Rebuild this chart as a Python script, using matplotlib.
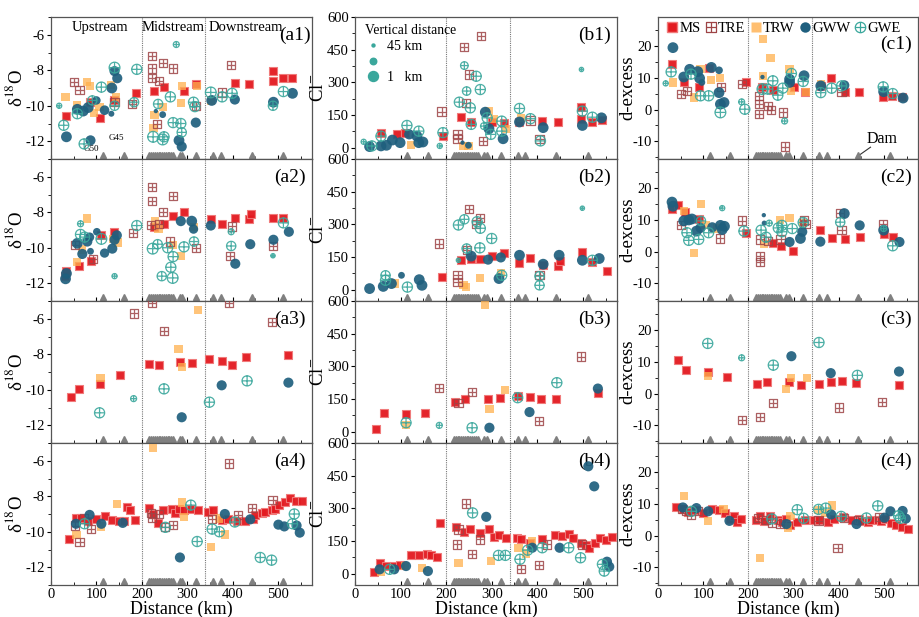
import matplotlib
matplotlib.use("Agg")
import matplotlib.pyplot as plt
from matplotlib.path import Path
from matplotlib.lines import Line2D
from matplotlib.ticker import MultipleLocator

plt.rcParams['font.family'] = ['Liberation Serif', 'DejaVu Serif']
plt.rcParams['mathtext.fontset'] = 'stix'
plt.rcParams['axes.unicode_minus'] = False

# ---------------- data ----------------
# (distance km, value) ; GW series: (distance km, value, vertical distance km)
A1 = {
 "MS": [(34,-10.6),(107,-10.7),(85,-9.8),(139,-9.7),(187,-9.3),(228,-9.15),(248,-8.95),(293,-9.15),(319,-8.75),(406,-8.7),(437,-8.75),(488,-8.05),(488,-8.6),(511,-8.45),(530,-8.45)],
 "TRE": [(51,-8.65),(63,-9.1),(140,-9.8),(179,-9.9),(222,-7.2),(222,-7.9),(222,-8.45),(238,-8.6),(246,-7.6),(269,-7.9),(233,-11.05),(319,-10.0),(376,-9.25),(397,-7.7)],
 "TRW": [(32,-9.5),(58,-9.95),(80,-8.65),(86,-8.9),(95,-10.4),(107,-10.05),(133,-8.85),(144,-9.5),(228,-10.5),(226,-11.25),(246,-10.05),(288,-8.9),(286,-9.85),(322,-8.9),(352,-9.7)],
 "GWW": [(34,-11.75,1),(58,-10.2,1),(71,-10.3,1),(82,-10.1,1),(87,-11.95,5),(100,-9.7,15),(118,-10.25,8),(134,-9.0,1),(140,-8.05,5),(146,-8.45,5),(133,-10.45,30),(231,-10.3,40),(246,-10.5,25),(282,-11.95,1),(288,-12.3,5),(319,-10.95,5),(354,-9.7,1),(405,-9.65,5),(490,-9.8,1),(532,-9.3,1)],
 "GWE": [(18,-10.0,35),(28,-11.1,5),(58,-10.45,5),(73,-12.15,5),(91,-9.7,10),(111,-8.95,5),(140,-7.85,1),(140,-10.0,10),(189,-7.95,5),(183,-9.8,10),(225,-11.75,1),(246,-11.9,1),(249,-11.75,5),(236,-9.9,10),(263,-9.5,5),(276,-6.55,30),(269,-10.95,5),(286,-11.0,5),(288,-11.5,10),(314,-9.8,5),(317,-10.05,5),(352,-9.25,1),(377,-9.5,5),(399,-9.3,5),(489,-10.0,10),(512,-9.2,5)],
}
A2 = {
 "MS": [(31,-11.6),(34,-11.3),(61,-11.0),(89,-10.75),(111,-9.3),(139,-9.1),(228,-8.85),(249,-8.65),(268,-8.2),(294,-8.0),(352,-8.4),(377,-8.65),(406,-8.3),(437,-8.4),(440,-8.1),(490,-8.3),(511,-8.35)],
 "TRE": [(53,-9.85),(93,-10.65),(180,-9.15),(222,-6.6),(222,-7.35),(246,-8.0),(268,-7.1),(220,-8.7),(238,-8.65),(263,-9.65),(319,-10.0),(399,-8.8),(395,-10.45),(489,-9.9)],
 "TRW": [(80,-8.35),(58,-10.8),(69,-10.1),(136,-9.5),(147,-9.7),(230,-8.5),(237,-8.95),(268,-9.85),(286,-10.45),(315,-8.85)],
 "GWW": [(32,-11.75,1),(34,-11.45,1),(58,-9.75,1),(69,-10.35,5),(80,-9.65,5),(101,-9.1,20),(85,-9.4,10),(118,-10.3,10),(135,-10.05,5),(140,-9.55,5),(145,-9.3,5),(87,-10.2,25),(286,-8.5,5),(310,-8.5,1),(314,-8.95,10),(352,-8.75,5),(439,-9.8,5),(406,-10.9,5),(490,-9.55,5),(524,-9.1,5)],
 "GWE": [(65,-8.65,30),(65,-9.25,5),(74,-9.4,5),(111,-9.5,1),(140,-11.6,35),(189,-8.75,5),(224,-10.05,1),(235,-9.8,10),(244,-11.6,10),(264,-11.1,5),(268,-11.7,1),(269,-10.5,5),(257,-10.0,5),(293,-9.95,5),(315,-9.65,10),(397,-9.9,10),(397,-9.1,30),(489,-10.45,40),(512,-8.6,5)],
}
A3 = {
 "MS": [(45,-10.4),(62,-9.95),(109,-9.7),(151,-9.15),(215,-8.55),(237,-8.6),(284,-8.45),(311,-8.5),(349,-8.25),(377,-8.4),(399,-8.6),(430,-8.15),(523,-8.05)],
 "TRE": [(182,-5.7),(222,-5.1),(249,-6.7),(393,-5.1),(487,-6.2)],
 "TRW": [(109,-9.35),(281,-7.7),(288,-8.7),(324,-5.5)],
 "GWW": [(288,-11.55,5),(376,-9.75,5),(523,-9.6,5)],
 "GWE": [(107,-11.3,5),(182,-10.5,30),(249,-9.95,5),(349,-10.7,5),(432,-9.5,5)],
}
A4 = {
 "MS": [(40,-10.4),(55,-9.25),(67,-9.2),(82,-9.4),(100,-9.3),(119,-9.1),(134,-9.35),(149,-9.4),(160,-9.4),(168,-8.6),(175,-8.8),(184,-9.35),(217,-8.65),(225,-9.0),(235,-9.5),(247,-8.8),(266,-8.7),(274,-8.95),(282,-8.7),(293,-8.75),(308,-8.7),(324,-8.8),(346,-8.9),(357,-8.8),(377,-9.35),(390,-9.3),(410,-9.4),(428,-9.4),(444,-9.3),(450,-9.05),(465,-8.95),(472,-8.9),(487,-8.75),(494,-8.7),(503,-8.5),(516,-8.3),(527,-8.1),(540,-8.25),(552,-8.25)],
 "TRE": [(53,-9.65),(63,-10.6),(73,-9.25),(89,-9.85),(220,-8.95),(222,-9.2),(238,-9.0),(252,-9.75),(269,-9.6),(355,-9.3),(393,-6.15),(412,-9.05),(443,-8.65),(488,-8.2)],
 "TRW": [(56,-10.2),(111,-9.7),(145,-8.45),(224,-5.3),(288,-8.35),(293,-9.15),(353,-10.85),(370,-9.25),(384,-10.15)],
 "GWW": [(55,-9.55,5),(85,-9.05,5),(111,-9.55,5),(158,-9.5,5),(284,-11.45,5),(383,-9.0,5),(439,-9.3,5),(501,-9.6,5),(514,-9.7,5),(541,-9.65,5),(548,-10.05,5)],
 "GWE": [(74,-9.55,5),(252,-9.75,5),(308,-8.5,5),(322,-10.55,5),(355,-9.85,5),(371,-10.0,5),(405,-9.45,5),(461,-11.45,5),(486,-11.6,5),(532,-9.55,5),(536,-9.0,5)],
}
B1 = {
 "MS": [(58,69),(92,61),(110,66),(193,53),(232,142),(255,118),(300,118),(327,115),(361,118),(411,122),(446,118),(497,186),(497,133),(521,118),(541,127)],
 "TRE": [(190,166),(225,61),(225,41),(240,461),(251,336),(277,511),(244,206),(281,31),(385,125),(405,38)],
 "TRW": [(123,11),(294,168),(305,130),(331,87),(238,8),(249,8),(365,137)],
 "GWW": [(32,5,1),(57,8,1),(69,11,1),(82,35,1),(99,23,1),(119,61,5),(136,53,1),(140,23,1),(149,26,1),(236,23,40),(249,11,25),(286,163,1),(294,87,1),(325,41,1),(361,118,1),(413,92,1),(499,102,1),(541,137,1)],
 "GWE": [(19,27,35),(37,8,5),(57,53,5),(114,102,5),(140,76,5),(186,8,35),(193,69,5),(229,209,5),(240,377,20),(245,260,15),(253,183,5),(255,107,5),(266,328,5),(275,267,5),(283,99,25),(290,137,5),(298,61,5),(322,122,5),(322,76,5),(361,180,5),(385,133,5),(407,31,5),(497,359,40),(499,168,5),(521,140,5)],
}
B2 = {
 "MS": [(192,58),(233,135),(255,143),(275,143),(301,154),(326,169),(361,123),(385,146),(413,112),(446,108),(450,132),(499,171),(521,128),(552,86)],
 "TRE": [(184,212),(225,66),(225,35),(251,369),(275,328),(266,302),(245,182),(405,66)],
 "TRW": [(88,28),(274,54),(320,78),(238,20),(243,12)],
 "GWW": [(32,5,1),(62,15,1),(80,28,1),(102,66,25),(141,46,1),(147,20,1),(255,154,1),(292,138,5),(320,148,5),(316,51,1),(361,158,1),(413,117,1),(448,158,1),(499,135,1),(536,143,1)],
 "GWE": [(67,66,10),(67,43,5),(115,12,5),(227,297,5),(240,323,10),(268,312,5),(275,282,5),(245,189,10),(274,192,5),(300,235,5),(322,66,5),(227,135,40),(405,62,10),(405,20,10),(499,374,40),(521,135,5)],
}
B3 = {
 "MS": [(46,11),(64,87),(112,83),(154,84),(219,138),(242,149),(291,149),(318,153),(357,164),(385,159),(408,149),(441,149),(534,179)],
 "TRE": [(185,199),(227,130),(257,182),(404,49),(496,345)],
 "TRW": [(112,29),(285,580),(295,103),(330,190)],
 "GWW": [(295,18,5),(383,90,5),(533,198,5)],
 "GWE": [(112,41,5),(185,29,30),(257,18,5),(357,156,5),(443,225,5)],
}
B4 = {
 "MS": [(41,9),(54,50),(69,35),(86,35),(99,38),(123,84),(141,84),(159,89),(166,84),(179,78),(187,234),(222,215),(240,191),(253,206),(275,188),(295,203),(305,169),(316,176),(331,165),(355,165),(364,157),(383,142),(411,157),(439,176),(454,172),(469,180),(478,165),(497,142),(506,130),(514,116),(526,142),(538,165),(551,154),(563,169)],
 "TRE": [(223,134),(227,203),(243,322),(257,89),(275,157),(364,23),(404,38),(421,134),(499,134)],
 "TRW": [(57,8),(109,35),(147,27),(227,50),(298,58),(359,119),(376,93),(389,150)],
 "GWW": [(54,20,5),(86,20,5),(112,35,5),(160,12,5),(288,261,5),(389,119,5),(449,119,5),(512,493,5),(525,401,5),(553,55,5),(558,32,5)],
 "GWE": [(76,20,5),(258,279,5),(315,84,5),(330,84,5),(362,66,5),(379,108,5),(411,119,5),(469,119,5),(495,73,5),(543,43,5),(547,12,5)],
}
C1 = {
 "MS": [(32,14.2),(57,8.5),(90,7.1),(112,13.0),(194,8.7),(231,7.1),(255,6.1),(301,7.2),(324,5.5),(360,7.4),(383,9.8),(414,5.6),(445,5.6),(497,3.8),(518,4.3),(540,4.0)],
 "TRE": [(51,4.8),(64,5.9),(140,7.1),(185,7.9),(224,4.3),(224,1.7),(224,-1.5),(243,1.1),(250,-0.2),(276,-0.9),(280,-11.6),(406,5.6)],
 "TRW": [(34,8.5),(79,3.8),(94,12.6),(118,9.3),(138,9.8),(233,22.0),(233,10.6),(249,16.1),(291,12.6),(295,5.9),(328,5.6),(360,7.9)],
 "GWW": [(33,19.4,1),(57,10.2,1),(70,12.6,1),(88,11.9,1),(97,8.5,25),(118,13.2,1),(135,12.3,20),(92,9.8,1),(135,5.3,1),(138,1.7,1),(146,2.2,1),(231,10.2,40),(291,8.5,1),(291,9.5,1),(323,10.6,1),(360,7.4,1),(412,7.6,5),(499,5.6,1),(542,3.6,1)],
 "GWE": [(17,8.2,35),(29,11.8,5),(73,11.1,5),(94,4.3,5),(112,4.3,5),(138,-0.9,1),(185,2.4,30),(192,0.1,5),(231,6.4,1),(243,6.4,5),(254,9.0,5),(265,4.5,5),(276,6.7,5),(280,-3.6,30),(295,11.3,5),(321,8.8,5),(360,5.3,5),(384,6.7,5),(406,7.4,5),(498,7.1,5),(519,5.0,5)],
}
C2 = {
 "MS": [(31,13.4),(45,14.6),(60,12.4),(90,10.1),(194,5.9),(254,2.8),(272,1.8),(298,0.3),(359,6.7),(384,4.1),(414,3.8),(447,4.5),(499,5.4),(519,4.6)],
 "TRE": [(51,8.2),(137,4.1),(185,9.7),(226,-1.5),(226,-3.2),(226,3.8),(243,3.3),(271,3.8),(323,9.7),(326,8.6),(403,12.1),(406,6.7),(498,8.6)],
 "TRW": [(57,12.6),(80,-0.5),(95,14.9),(105,8.2),(131,7.2),(234,2.3),(269,9.9),(291,10.4),(321,8.9)],
 "GWW": [(31,15.5,1),(33,14.2,1),(57,9.6,1),(68,9.9,1),(75,10.2,1),(85,6.4,1),(94,7.4,5),(120,7.6,5),(138,8.2,1),(147,7.9,1),(142,6.9,1),(234,11.4,40),(235,8.9,35),(291,3.0,5),(315,4.1,1),(319,6.2,5),(359,3.1,5),(412,11.9,1),(446,8.2,5),(499,6.7,1),(534,3.0,5)],
 "GWE": [(64,5.9,5),(68,3.5,5),(90,3.8,5),(95,9.6,10),(112,5.9,5),(142,13.6,35),(190,6.4,5),(228,6.7,5),(239,4.5,5),(246,8.9,30),(266,7.4,5),(274,8.2,5),(274,6.2,5),(297,7.2,5),(321,9.1,5),(403,9.2,10),(499,7.2,30),(519,1.8,5)],
}
C3 = {
 "MS": [(44,10.4),(62,7.4),(110,6.7),(153,5.1),(218,3.1),(240,3.5),(289,3.6),(317,2.8),(356,3.0),(382,3.6),(406,4.0),(438,3.3),(534,2.6)],
 "TRE": [(185,-8.3),(226,-7.3),(254,-2.9),(401,-4.4),(496,-2.7)],
 "TRW": [(110,5.4),(283,1.3),(295,4.8),(330,4.8)],
 "GWW": [(295,11.7,5),(382,6.4,5),(533,6.9,5)],
 "GWE": [(110,15.7,5),(185,11.2,30),(255,8.9,5),(356,16.0,5),(441,5.7,5)],
}
C4 = {
 "MS": [(40,9.0),(55,8.2),(67,7.4),(82,7.9),(100,7.2),(119,8.3),(134,8.0),(149,7.0),(160,5.2),(168,6.1),(175,4.2),(184,5.3),(217,5.0),(225,6.2),(235,4.4),(247,6.0),(266,5.0),(274,4.2),(282,5.1),(293,3.4),(308,4.2),(324,5.0),(346,5.0),(357,4.9),(377,4.2),(390,5.1),(410,5.8),(428,5.0),(444,5.3),(450,4.4),(465,4.1),(472,4.9),(487,4.8),(494,4.4),(503,5.2),(516,3.9),(527,3.4),(540,2.6),(552,2.2)],
 "TRE": [(53,8.4),(63,7.8),(73,6.5),(89,7.6),(222,5.4),(238,4.8),(252,4.1),(269,3.5),(355,4.7),(397,-3.8),(412,5.6),(443,4.9),(488,5.8)],
 "TRW": [(58,12.4),(111,4.6),(145,8.3),(225,-7.0),(288,2.5),(293,6.0),(353,8.1),(370,7.0),(384,9.4)],
 "GWW": [(55,8.8,5),(85,8.6,5),(111,7.6,5),(158,4.6,5),(284,3.6,5),(383,6.6,5),(439,3.6,5),(501,5.6,5),(514,7.6,5),(541,7.7,5),(548,5.3,5)],
 "GWE": [(74,7.6,5),(252,5.2,5),(308,8.1,5),(322,5.4,5),(355,8.2,5),(371,8.6,5),(405,6.0,5),(461,5.5,5),(486,9.3,5),(532,6.2,5),(536,5.4,5)],
}

sample_sites_km = [114,160,217,221,225,229,233,237,241,245,249,253,257,261,265,269,284,289,320,357,374,442,512]
zone_bounds_km = [200, 340]

# ---------------- styles ----------------
sq = [(-1,-1),(1,-1),(1,1),(-1,1),(-1,-1)]
SQ_CROSS = Path(sq + [(-1,0),(1,0),(0,-1),(0,1)],
                [Path.MOVETO]+[Path.LINETO]*3+[Path.CLOSEPOLY]+[Path.MOVETO,Path.LINETO,Path.MOVETO,Path.LINETO])
CROSS = Path([(-1,0),(1,0),(0,-1),(0,1)],[Path.MOVETO,Path.LINETO,Path.MOVETO,Path.LINETO])
CIRC_CROSS = Path.make_compound_path(Path.unit_circle(), CROSS)

C_MS = '#e3191f'; C_TRE = '#9e4446'; C_TRW = '#ffb04d'; C_GWW = '#1f5f7e'; C_GWE = '#3aa79c'

def vd_size(vd):
    dpx = 10.8 - 7.3*(vd-1)/44.0
    return (dpx/1.389)**2

SQ_S = (8.2/1.389)**2

def draw(ax, d):
    xs, ys = zip(*d["MS"])
    ax.scatter(xs, ys, s=SQ_S, marker='s', facecolor=C_MS, edgecolor='#f07a7a', linewidths=0.8, alpha=0.95, zorder=3)
    xs, ys = zip(*d["TRE"])
    ax.scatter(xs, ys, s=SQ_S, marker=SQ_CROSS, facecolor='none', edgecolor=C_TRE, linewidths=0.9, alpha=0.85, zorder=4)
    xs, ys = zip(*d["TRW"])
    ax.scatter(xs, ys, s=SQ_S, marker='s', facecolor=C_TRW, edgecolor='none', alpha=0.75, zorder=3)
    xs, ys, vs = zip(*d["GWW"])
    ax.scatter(xs, ys, s=[vd_size(v) for v in vs], marker='o', facecolor=C_GWW, edgecolor='none', alpha=0.92, zorder=5)
    xs, ys, vs = zip(*d["GWE"])
    ax.scatter(xs, ys, s=[vd_size(v) for v in vs], marker=CIRC_CROSS, facecolor='none', edgecolor=C_GWE, linewidths=0.9, alpha=0.9, zorder=6)

# ---------------- layout ----------------
fig = plt.figure(figsize=(9.2, 6.17), dpi=100)
W, H = 920.0, 617.0
col_left = [51, 355, 658]
col_w = [261, 262, 260]
row_top = [17, 159, 301, 443]
row_h = 142

panels = [[A1, B1, C1], [A2, B2, C2], [A3, B3, C3], [A4, B4, C4]]
ylims = [(-13, -5), (-52, 600), (-15.5, 29)]
yticks = [[-12, -10, -8, -6], [0, 150, 300, 450, 600], [-10, 0, 10, 20]]
yminor = [1, 75, 5]
ylabels = ['δ$^{18}$O', 'Cl$^{\u2212}$', 'd-excess']
ylab_x = [-0.095, -0.105, -0.082]
letters = ['a', 'b', 'c']

axes = {}
for r in range(4):
    for c in range(3):
        rect = [col_left[c]/W, 1-(row_top[r]+row_h)/H, col_w[c]/W, row_h/H]
        ax = fig.add_axes(rect)
        axes[(r, c)] = ax
        draw(ax, panels[r][c])
        ax.set_xlim(0, 575)
        ax.set_ylim(*ylims[c])
        ax.set_yticks(yticks[c])
        ax.yaxis.set_minor_locator(MultipleLocator(yminor[c]))
        ax.xaxis.set_major_locator(MultipleLocator(100))
        ax.xaxis.set_minor_locator(MultipleLocator(50))
        ax.tick_params(axis='x', which='both', direction='in', length=3, labelsize=10.5, pad=2)
        ax.tick_params(axis='x', which='minor', length=2)
        ax.tick_params(axis='y', which='major', direction='out', length=3, labelsize=10.5, pad=1.5)
        ax.tick_params(axis='y', which='minor', direction='out', length=2)
        for sp in ax.spines.values():
            sp.set_color('#555555'); sp.set_linewidth(0.9)
        for xb in zone_bounds_km:
            ax.axvline(xb, color='#777777', ls=(0, (1, 1)), lw=0.8, zorder=1)
        ax.plot(sample_sites_km, [0.03]*len(sample_sites_km), ls='none', marker='^',
                ms=5, color='#808080', transform=ax.get_xaxis_transform(), zorder=2, clip_on=False)
        ax.set_ylabel(ylabels[c], fontsize=13.5)
        ax.yaxis.set_label_coords(ylab_x[c], 0.5)
        if r == 0 and c == 0:
            ax.text(0.997, 0.935, f'({letters[c]}{r+1})', transform=ax.transAxes, ha='right', va='top', fontsize=14)
        elif r == 0 and c == 2:
            ax.text(0.975, 0.87, f'({letters[c]}{r+1})', transform=ax.transAxes, ha='right', va='top', fontsize=14)
        else:
            ax.text(0.975, 0.93, f'({letters[c]}{r+1})', transform=ax.transAxes, ha='right', va='top', fontsize=14)
        if r < 3:
            ax.tick_params(axis='x', labelbottom=False)
        else:
            ax.set_xlabel('Distance (km)', fontsize=13, labelpad=0)

# zone names
ax = axes[(0, 0)]
ax.text(107, -5.6, 'Upstream', ha='center', va='center', fontsize=10.5)
ax.text(270, -5.6, 'Midstream', ha='center', va='center', fontsize=10.5)
ax.text(348, -5.6, 'Downstream', ha='left', va='center', fontsize=10.5)
ax.text(144, -11.8, 'G45', ha='center', va='center', fontsize=6.5)
ax.text(88, -12.45, 'G50', ha='center', va='center', fontsize=6.5)

# vertical distance legend
ax = axes[(0, 1)]
h_small = Line2D([], [], ls='none', marker='o', color=C_GWE, ms=3.0/1.389)
h_mid = Line2D([], [], ls='none', marker='o', color=C_GWE, ms=6.5/1.389)
h_big = Line2D([], [], ls='none', marker='o', color=C_GWE, ms=10/1.389)
leg = ax.legend([h_small, h_mid, h_big], ['45 km', '', '1   km'], title='Vertical distance',
                loc='upper left', bbox_to_anchor=(0.0, 1.02), frameon=False, fontsize=10,
                title_fontsize=9.8, handletextpad=0.4, labelspacing=0.2, borderaxespad=0.3,
                handlelength=1.2)
leg._legend_box.align = 'left'

# series legend
ax = axes[(0, 2)]
hs = [Line2D([], [], ls='none', marker='s', ms=7, markerfacecolor=C_MS, markeredgecolor='#f07a7a'),
      Line2D([], [], ls='none', marker=SQ_CROSS, ms=7, markerfacecolor='none', markeredgecolor=C_TRE, markeredgewidth=0.9),
      Line2D([], [], ls='none', marker='s', ms=7, markerfacecolor=C_TRW, markeredgecolor='none', alpha=0.8),
      Line2D([], [], ls='none', marker='o', ms=7.5, markerfacecolor=C_GWW, markeredgecolor='none'),
      Line2D([], [], ls='none', marker=CIRC_CROSS, ms=7.5, markerfacecolor='none', markeredgecolor=C_GWE, markeredgewidth=0.9)]
ax.legend(hs, ['MS', 'TRE', 'TRW', 'GWW', 'GWE'], loc='upper left', bbox_to_anchor=(-0.005, 1.03), ncol=5,
          frameon=False, fontsize=10.5, handletextpad=0.05, columnspacing=0.25, handlelength=0.9, borderaxespad=0.2)
ax.plot([448, 470], [-14.0, -11.8], color='#333333', lw=0.8, zorder=2)
ax.text(495, -9.2, 'Dam', ha='center', va='center', fontsize=11.5)

fig.savefig('out.png', dpi=100)
